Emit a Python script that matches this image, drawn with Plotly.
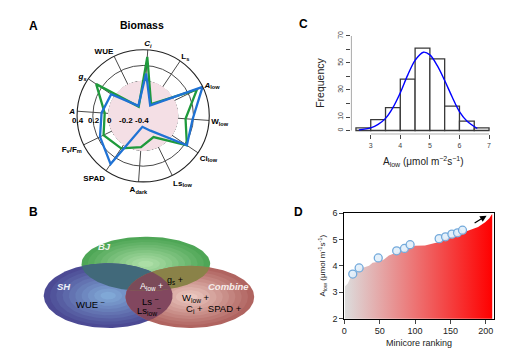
import numpy as np
import plotly.graph_objects as go

W, H = 505, 358

# ---------------- Panel A data (radar) ----------------
radar_axes = ["<i>C<sub>i</sub></i>", "L<sub>s</sub>", "<i>A</i><sub>low</sub>", "W<sub>low</sub>",
              "Ci<sub>low</sub>", "Ls<sub>low</sub>", "A<sub>dark</sub>", "SPAD",
              "F<sub>v</sub>/F<sub>m</sub>", "<i>A</i>", "<i>g<sub>s</sub></i>", "WUE"]
radar_blue = [0.10, -0.28, 0.40, 0.19, 0.23, -0.23, -0.30, 0.30, 0.17, 0.09, 0.05, -0.30]
radar_green = [0.31, -0.26, 0.32, 0.10, 0.23, -0.14, -0.04, 0.06, 0.12, 0.05, 0.28, -0.31]
radial_ticks = [-0.4, -0.2, 0, 0.2, 0.4]
radial_labels = ["-0.4", "-0.2", "0", "0.2", "0.4"]

# ---------------- Panel C data (histogram) ----------------
hist_centers = [2.75, 3.25, 3.75, 4.25, 4.75, 5.25, 5.75, 6.25, 6.75]
hist_counts = [2, 8, 17, 38, 61, 53, 18, 7, 2]
curve_x = [2.6, 3.0, 3.25, 3.5, 3.75, 4.0, 4.25, 4.5, 4.78, 5.0, 5.25, 5.5, 5.75, 6.0, 6.25, 6.6]
curve_y = [0.5, 2, 4.5, 9, 17, 28, 41, 52, 58, 56, 48, 37, 25, 14, 7, 1.5]
c_xticks = [3, 4, 5, 6, 7]
c_yticks = [0, 10, 20, 30, 40, 50, 60, 70]
c_ylabels = ["0", "10", "", "30", "", "50", "", "70"]

# ---------------- Panel D data (ranking) ----------------
rank_x = [1, 5, 9, 14, 23, 35, 40, 49, 56, 63, 72, 82, 93, 100, 114, 124, 131, 143, 157, 171, 187, 189, 199, 205, 208, 209]
rank_y = [3.23, 3.33, 3.57, 3.76, 3.90, 4.00, 4.12, 4.16, 4.24, 4.39, 4.49, 4.55, 4.67, 4.76, 4.77, 4.82, 4.88,
          5.02, 5.16, 5.31, 5.45, 5.47, 5.65, 5.80, 5.93, 5.95]
hl_x = [12, 21, 48, 74, 85, 93, 134, 143, 152, 160, 167]
hl_y = [3.69, 3.92, 4.30, 4.57, 4.66, 4.80, 5.03, 5.10, 5.20, 5.25, 5.35]
d_xticks = [0, 50, 100, 150, 200]
d_yticks = [2, 3, 4, 5, 6]


def px(x):
    return x / W


def py(y):
    return 1 - y / H


fig = go.Figure()

# ---------------- Panel A ----------------
R_MIN, R_MAX = -0.44, 0.4
A_CX, A_CY, A_RAD = 141, 114, 68
fig.add_trace(go.Barpolar(r=[-R_MIN] * 12, base=R_MIN, theta=radar_axes, width=[30] * 12,
                          marker=dict(color="#f4dfe5", line=dict(width=0)), subplot="polar",
                          hoverinfo="skip"))
fig.add_trace(go.Scatterpolar(r=radar_green + radar_green[:1], theta=radar_axes + radar_axes[:1],
                              mode="lines", line=dict(color="#1f9a3c", width=2.3), subplot="polar"))
fig.add_trace(go.Scatterpolar(r=radar_blue + radar_blue[:1], theta=radar_axes + radar_axes[:1],
                              mode="lines", line=dict(color="#1f72d4", width=2.3), subplot="polar"))

# ---------------- Panel B (Venn) ----------------
venn = {
    "BJ": dict(c=(143.7, 266.3), r=(64.7, 28.0), edge=(78, 166, 86), center=(172, 222, 166)),
    "SH": dict(c=(105.8, 299.0), r=(64.8, 33.3), edge=(76, 74, 148), center=(128, 168, 214)),
    "Combine": dict(c=(188.0, 300.3), r=(64.7, 32.0), edge=(176, 100, 96), center=(234, 198, 190)),
}


def ell(cx, cy, rx, ry, k=1.0, n=160):
    t = np.linspace(0, 2 * np.pi, n)
    return cx + k * rx * np.cos(t), cy + k * ry * np.sin(t)


def inside(x, y, e):
    (cx, cy), (rx, ry) = e["c"], e["r"]
    return ((x - cx) / rx) ** 2 + ((y - cy) / ry) ** 2 <= 1.0


def intersection(*names):
    xs, ys = [], []
    for nm in names:
        e = venn[nm]
        x, y = ell(*e["c"], *e["r"], n=600)
        m = np.ones_like(x, dtype=bool)
        for o in names:
            if o != nm:
                m &= inside(x, y, venn[o])
        xs.append(x[m])
        ys.append(y[m])
    x = np.concatenate(xs)
    y = np.concatenate(ys)
    ang = np.arctan2(y - y.mean(), x - x.mean())
    o = np.argsort(ang)
    return np.append(x[o], x[o][0]), np.append(y[o], y[o][0])


for nm in ["BJ", "SH", "Combine"]:
    e = venn[nm]
    for k in np.linspace(1.0, 0.12, 10):
        f = (1 - k) / 0.88
        col = tuple(int(e["edge"][i] + (e["center"][i] - e["edge"][i]) * f) for i in range(3))
        x, y = ell(*e["c"], *e["r"], k=k)
        fig.add_trace(go.Scatter(x=x, y=y, fill="toself", mode="lines", line=dict(width=0),
                                 fillcolor="rgb(%d,%d,%d)" % col, xaxis="x4", yaxis="y4",
                                 hoverinfo="skip"))

for names, col in [(("BJ", "SH"), "#41697a"), (("SH", "Combine"), "#82475f"),
                   (("BJ", "Combine"), "#8a8248"), (("BJ", "SH", "Combine"), "#7b4b59")]:
    x, y = intersection(*names)
    fig.add_trace(go.Scatter(x=x, y=y, fill="toself", mode="lines", line=dict(width=0),
                             fillcolor=col, xaxis="x4", yaxis="y4", hoverinfo="skip"))

# ---------------- Panel C ----------------
fig.add_trace(go.Bar(x=hist_centers, y=hist_counts, width=0.5,
                     marker=dict(color="white", line=dict(color="#3a3a3a", width=1.3)),
                     xaxis="x2", yaxis="y2"))
fig.add_trace(go.Scatter(x=curve_x, y=curve_y, mode="lines",
                         line=dict(color="#0000ff", width=1.4, shape="spline"),
                         xaxis="x2", yaxis="y2"))

# ---------------- Panel D ----------------
fig.add_trace(go.Scatter(x=rank_x, y=rank_y, mode="lines", line=dict(width=0), fill="tozeroy",
                         fillgradient=dict(type="horizontal",
                                           colorscale=[[0, "#dcdcdc"], [1, "#ff0000"]]),
                         xaxis="x3", yaxis="y3", hoverinfo="skip"))
fig.add_trace(go.Scatter(x=hl_x, y=hl_y, mode="markers",
                         marker=dict(symbol="circle", size=8, color="rgba(225,238,250,0.9)",
                                     line=dict(color="#74aadb", width=1.3)),
                         xaxis="x3", yaxis="y3"))

# ---------------- Layout ----------------
tickfont_small = dict(family="Liberation Sans, Arial", size=7, color="#444")
fig.update_layout(
    width=W, height=H, margin=dict(l=0, r=0, t=0, b=0), showlegend=False,
    paper_bgcolor="white", plot_bgcolor="rgba(0,0,0,0)",
    font=dict(family="Liberation Sans, Arial", color="black"),
    polar=dict(
        domain=dict(x=[px(A_CX - A_RAD), px(A_CX + A_RAD)], y=[py(A_CY + A_RAD), py(A_CY - A_RAD)]),
        bgcolor="white",
        angularaxis=dict(direction="clockwise", rotation=86, gridcolor="#4a4a4a",
                         linecolor="#222", linewidth=1.1, showline=True, ticks="",
                         tickfont=dict(size=8, color="black", weight="bold")),
        radialaxis=dict(range=[R_MIN, R_MAX], tickvals=radial_ticks, showticklabels=False,
                        angle=180, showline=False, gridcolor="#4a4a4a", ticks=""),
    ),
    xaxis2=dict(domain=[px(350), px(494)], range=[2.33, 7.17], showline=False, showgrid=False,
                zeroline=False, tickvals=c_xticks, ticks="outside", ticklen=4, tickcolor="#444",
                tickfont=tickfont_small, anchor="y2"),
    yaxis2=dict(domain=[py(133), py(28)], range=[-2.8, 72.8], showline=False, showgrid=False,
                zeroline=False, tickvals=c_yticks, ticktext=c_ylabels, ticks="outside", ticklen=4,
                tickcolor="#444", tickangle=-90, tickfont=tickfont_small, anchor="x2"),
    xaxis3=dict(domain=[px(343.3), px(494.3)], range=[0, 212], showline=True, mirror=True,
                linecolor="black", linewidth=1, showgrid=False, zeroline=False, tickvals=d_xticks,
                ticks="outside", ticklen=4, tickfont=dict(size=9, color="#222"), anchor="y3"),
    yaxis3=dict(domain=[py(322.7), py(214)], range=[2, 6], showline=True, mirror=True,
                linecolor="black", linewidth=1, showgrid=False, zeroline=False, tickvals=d_yticks,
                ticks="outside", ticklen=4, tickfont=dict(size=9, color="#222"), anchor="x3"),
    xaxis4=dict(domain=[0, px(260)], range=[0, 260], visible=False, anchor="y4"),
    yaxis4=dict(domain=[0, py(200)], range=[358, 200], visible=False, anchor="x4"),
)

# R-style partial axis lines for panel C
fig.add_shape(type="line", xref="x2", yref="y2", x0=3, x1=7, y0=-2.8, y1=-2.8,
              line=dict(color="#444", width=1))
fig.add_shape(type="line", xref="x2", yref="y2", x0=2.33, x1=2.33, y0=0, y1=70,
              line=dict(color="#444", width=1))

# Arrow in panel D
fig.add_annotation(x=201, y=5.9, ax=182, ay=5.59, xref="x3", yref="y3", axref="x3", ayref="y3",
                   text="", showarrow=True, arrowhead=2, arrowsize=1, arrowwidth=1.3,
                   arrowcolor="black")


def ann(x, y, text, size=9, color="black", bold=False, italic=False, angle=0, xanchor="center"):
    if italic:
        text = "<i>" + text + "</i>"
    if bold:
        text = "<b>" + text + "</b>"
    fig.add_annotation(x=px(x), y=py(y), xref="paper", yref="paper", text=text, showarrow=False,
                       font=dict(size=size, color=color), textangle=angle, xanchor=xanchor,
                       yanchor="middle")


# Radial tick labels of the radar, placed along the A spoke (left)
for v, lab in zip(radial_ticks, radial_labels):
    rpx = (v - R_MIN) / (R_MAX - R_MIN) * A_RAD
    ann(A_CX - rpx + 2, A_CY + 5, lab, size=8, bold=True)

# Panel letters
ann(31, 22, "A", size=12, bold=True)
ann(31, 213, "B", size=12, bold=True)
ann(302, 20, "C", size=12, bold=True)
ann(297, 213, "D", size=12, bold=True)

# Panel A title
ann(140, 21, "Biomass", size=10.5, bold=True)

# Panel B texts
ann(101.7, 248.3, "BJ", size=9.5, color="#eef5ee", bold=True, italic=True)
ann(61.7, 289.3, "SH", size=9.5, color="#eef0f8", bold=True, italic=True)
ann(226.7, 290, "Combine", size=9.5, color="#f6ecea", bold=True, italic=True)
ann(88, 307.5, "WUE <sup>–</sup>", size=9.5)
ann(149.3, 289.3, "A<sub>low</sub> +", size=9, color="white")
ann(173.5, 283, "g<sub>s</sub> +", size=9)
ann(148, 304.5, "Ls <sup>–</sup>", size=9.5)
ann(147, 314, "Ls<sub>low</sub><sup>–</sup>", size=9.5)
ann(194, 301.5, "W<sub>low</sub> +", size=9.5)
ann(212, 313, "C<sub>i</sub> +  SPAD +", size=9.5)

# Panel C titles
ann(319, 80, "Frequency", size=10.5, color="#222", angle=-90)
ann(423, 161, "A<sub>low</sub> (μmol m<sup>−2</sup>s<sup>−1</sup>)", size=10, color="#222")

# Panel D titles
ann(418, 348, "Minicore ranking", size=9, color="#222")
ann(321, 268, "A<sub>low</sub> (μmol m<sup>-1</sup>s<sup>-1</sup>)", size=8, color="#222", angle=-90)

fig.write_html("out.html", config={"displayModeBar": False},
               post_script="document.body.style.margin='0';document.body.style.overflow='hidden';")
